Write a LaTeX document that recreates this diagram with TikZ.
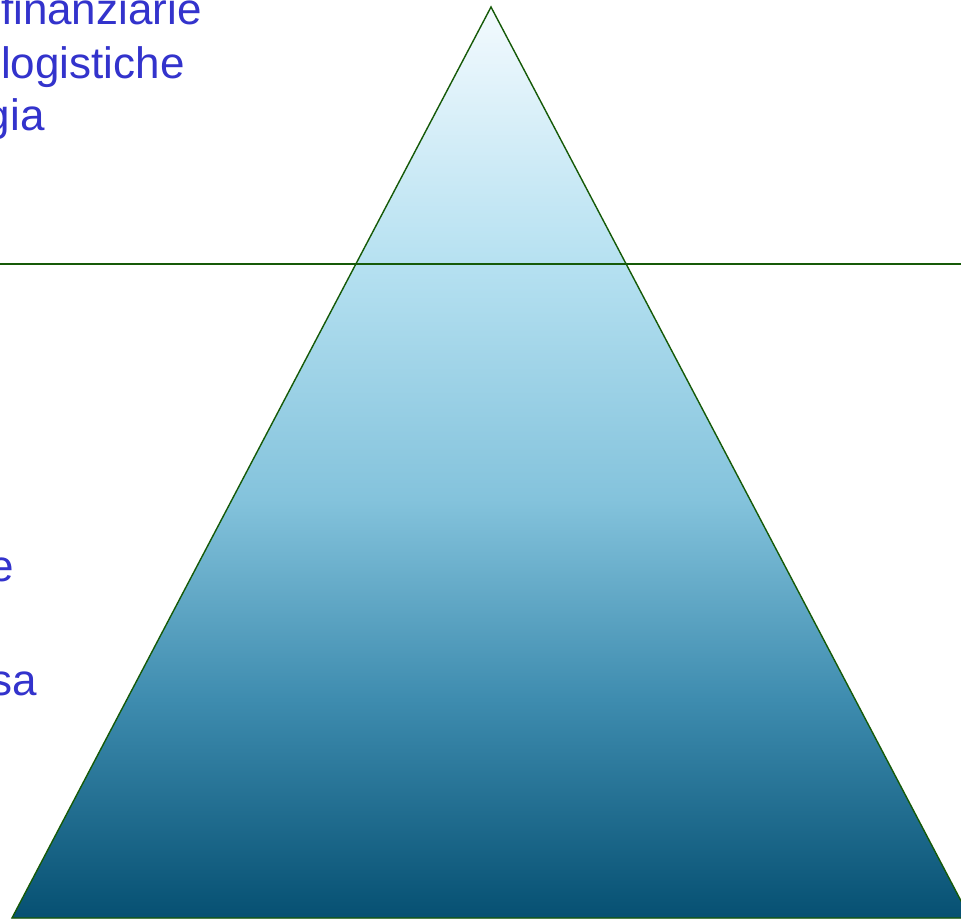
\documentclass[tikz,border=0pt]{standalone}
\usepackage{fontspec}
\setmainfont{Liberation Sans}
\usepackage{xcolor}
\usepackage{tikz}
\usetikzlibrary{calc}
\definecolor{cText}{RGB}{51,51,204}
\definecolor{cLine}{RGB}{22,90,8}
\definecolor{cIce0}{RGB}{243,250,254}
\definecolor{cIce1}{RGB}{182,225,241}
\definecolor{cIce2}{RGB}{132,195,220}
\definecolor{cIce3}{RGB}{62,140,175}
\definecolor{cIce4}{RGB}{6,80,114}
\pgfdeclareverticalshading{iceberg}{100bp}{%
  color(0bp)=(cIce4); color(25bp)=(cIce4); color(37bp)=(cIce3);
  color(48bp)=(cIce2); color(61bp)=(cIce1); color(75bp)=(cIce0);
  color(100bp)=(cIce0)}
\tikzset{
  lbl/.style={font=\fontsize{22}{26}\selectfont, text=cText, inner sep=0pt, anchor=base east},
  edge/.style={draw=cLine, line width=0.7pt},
}

\begin{document}
\begin{tikzpicture}[x=0.5pt, y=-0.5pt]
  \useasboundingbox (0,0) rectangle (961,920);
  \clip (0,0) rectangle (961,920);
  % iceberg
  \coordinate (apex) at (491,7);
  \coordinate (bl) at (12,918);
  \coordinate (br) at (970,918);
  \coordinate (wl) at (0,264);
  \coordinate (wr) at (961,264);
  \fill[shading=iceberg] (apex) -- (bl) -- (br) -- cycle;
  \draw[edge] (apex) -- (bl) -- (br) -- cycle;
  \draw[edge] (wl) -- (wr);
  % texts
  \node[lbl] (t1) at (202,25) {finanziarie};
  \node[lbl] (t2) at (185,78) {logistiche};
  \node[lbl] (t3) at (45,130) {gia};
  \node[lbl] (t4) at (14,581) {e};
  \node[lbl] (t5) at (37,695) {sa};
\end{tikzpicture}
\end{document}
